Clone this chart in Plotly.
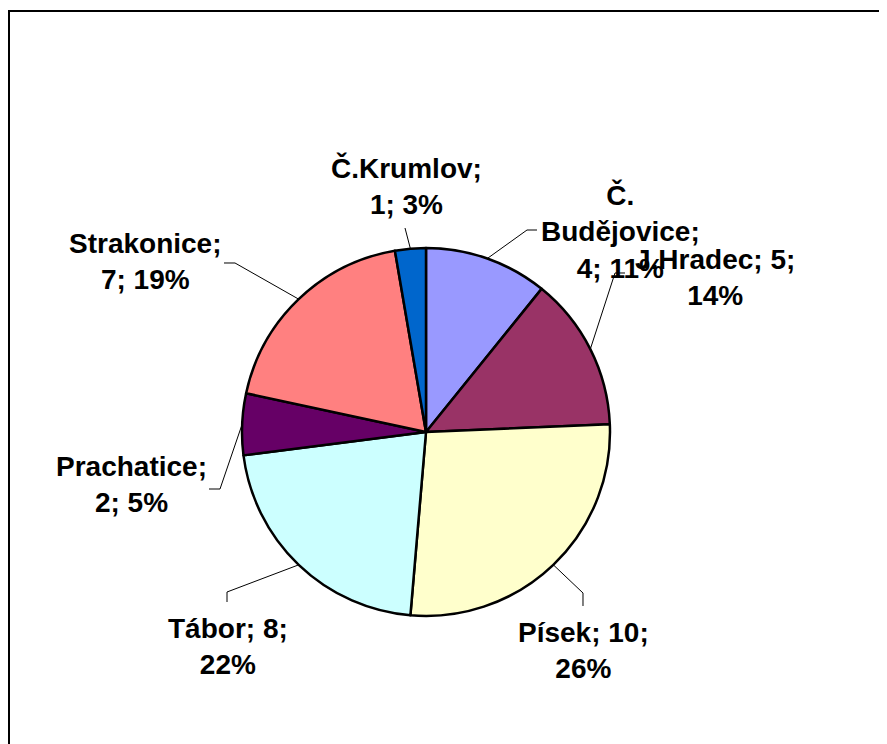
import math
import plotly.graph_objects as go

# ---- data ----
districts = ["Č.<br>Budějovice", "J.Hradec", "Písek", "Tábor", "Prachatice", "Strakonice", "Č.Krumlov"]
counts = [4, 5, 10, 8, 2, 7, 1]
percent_labels = ["11%", "14%", "26%", "22%", "5%", "19%", "3%"]
colors = ["#9999FF", "#993366", "#FFFFCC", "#CCFFFF", "#660066", "#FF8080", "#0066CC"]

# ---- geometry (pixels in the page; the page body adds an 8px offset) ----
W, H = 887, 744
OFF = 8
CX, CY, R = 426, 432, 184

def px(x):
    return (x - OFF) / W

def py(y):
    return 1 - (y - OFF) / H

label_text = [
    "<b>Č.<br>Budějovice;<br>4; 11%</b>",
    "<b>J.Hradec; 5;<br>14%</b>",
    "<b>Písek; 10;<br>26%</b>",
    "<b>Tábor; 8;<br>22%</b>",
    "<b>Prachatice;<br>2; 5%</b>",
    "<b>Strakonice;<br>7; 19%</b>",
    "<b>Č.Krumlov;<br>1; 3%</b>",
]
text_centres = [(620, 232), (715, 277), (583, 650), (228, 646), (131, 484), (145, 262), (406, 186)]
leader_paths = [
    [(527, 230), (537, 230)],
    [(615, 273), (625, 273)],
    [(583, 593), (583, 606)],
    [(227, 592), (227, 602)],
    [(220, 489), (209, 489)],
    [(235, 263), (224, 263)],
    [(405, 228)],
]

fig = go.Figure()
fig.add_trace(go.Pie(
    labels=districts,
    values=counts,
    sort=False,
    direction="clockwise",
    rotation=0,
    textinfo="none",
    hoverinfo="skip",
    marker=dict(colors=colors, line=dict(color="black", width=2.5)),
    domain=dict(x=[px(CX - R), px(CX + R)], y=[py(CY + R), py(CY - R)]),
    showlegend=False,
))

total = sum(counts)
shapes = [dict(type="rect", xref="paper", yref="paper",
               x0=px(9), x1=1.1, y0=-0.1, y1=py(11),
               line=dict(color="black", width=2), layer="below")]
annotations = []
cum = 0
for i, v in enumerate(counts):
    mid = (cum + v / 2) / total * 2 * math.pi
    cum += v
    sx = CX + R * math.sin(mid)
    sy = CY - R * math.cos(mid)
    pts = [(sx, sy)] + leader_paths[i]
    path = "M " + " L ".join(f"{px(x):.5f},{py(y):.5f}" for x, y in pts)
    shapes.append(dict(type="path", xref="paper", yref="paper", path=path,
                       line=dict(color="black", width=1)))
    tx, ty = text_centres[i]
    annotations.append(dict(x=px(tx), y=py(ty), xref="paper", yref="paper",
                            text=label_text[i], showarrow=False, align="center",
                            xanchor="center", yanchor="middle",
                            font=dict(family="Liberation Sans, Arial", size=28, color="black")))

fig.update_layout(
    width=W, height=H,
    margin=dict(l=0, r=0, t=0, b=0),
    paper_bgcolor="white",
    plot_bgcolor="white",
    shapes=shapes,
    annotations=annotations,
)
fig.write_html("out.html")
